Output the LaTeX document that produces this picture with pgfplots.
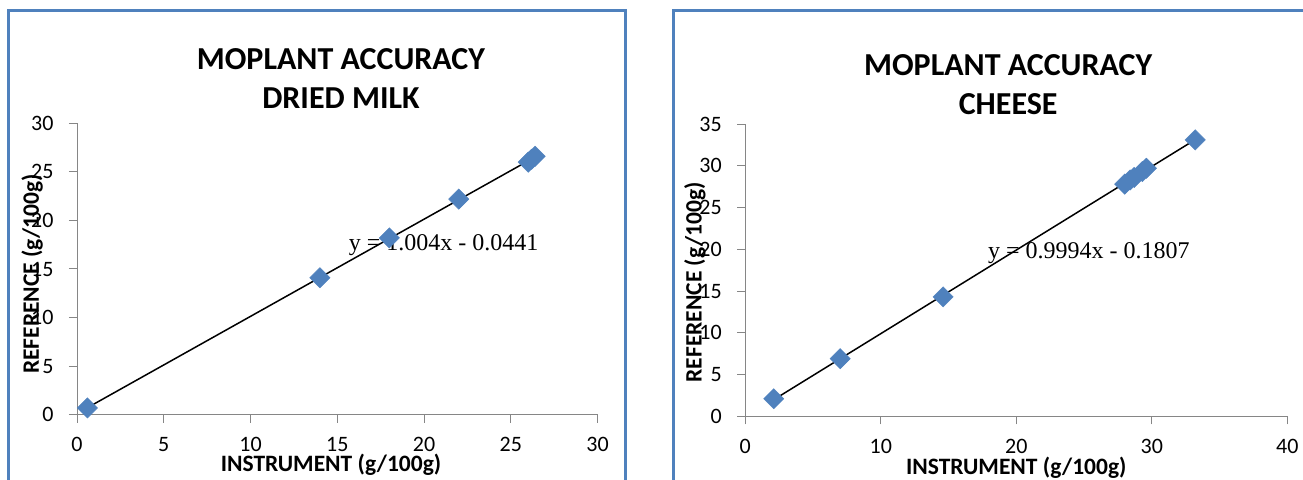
\documentclass[border=0pt]{standalone}
\usepackage{fontspec}
\setmainfont{Carlito}
\newfontfamily\timesfont{Liberation Serif}
\usepackage{pgfplots}
\usepackage{pgfplotstable}
\pgfplotsset{compat=1.18}
\definecolor{mkblue}{HTML}{4F81BD}
\definecolor{axgray}{HTML}{868686}
\definecolor{frameblue}{HTML}{4F81BD}

\pgfplotstableread{
x y
0.6 0.7
14.0 14.1
18.0 18.2
22.0 22.2
26.0 26.0
26.2 26.3
26.4 26.6
}\milk

\pgfplotstableread{
x y
2.1 2.1
7.0 6.9
14.6 14.3
28.0 27.8
28.4 28.3
28.7 28.6
29.3 29.3
29.6 29.7
33.2 33.1
}\cheese

\pgfplotsset{mystyle/.style={
  scale only axis,
  anchor=south west,
  axis x line=bottom, axis y line=left,
  axis line style={axgray, line width=1pt, -},
  tick style={axgray, line width=1pt},
  tick align=outside,
  major tick length=8pt,
  xmin=0, ymin=0,
  tick label style={font=\fontsize{22}{22}\selectfont, text=black},
  xticklabel style={yshift=-11pt},
  yticklabel style={xshift=-12pt},
  /pgf/number format/assume math mode=true,
  xlabel style={font=\fontsize{23.5}{23.5}\selectfont\bfseries, anchor=center},
  ylabel style={font=\fontsize{23.5}{23.5}\selectfont\bfseries, anchor=center},
  title style={font=\fontsize{32}{39}\selectfont\bfseries, align=center, anchor=center},
  clip=false,
}}

\begin{document}
\begin{tikzpicture}[x=1pt,y=1pt]
\useasboundingbox (0,0) rectangle (1303,479);
\draw[frameblue, line width=3pt] (8.5,-10) -- (8.5,468) -- (625.5,468) -- (625.5,-10);
\draw[frameblue, line width=3pt] (673.5,-10) -- (673.5,468) -- (1320,468);

\begin{axis}[mystyle,
  at={(77pt,64.3pt)}, width=520.6pt, height=291.4pt,
  xmax=30, ymax=30, xtick={0,5,...,30}, ytick={0,5,...,30},
  xlabel={INSTRUMENT (g/100g)},
  xlabel style={at={(axis description cs:0.488,0)}, yshift=-50pt},
  ylabel={REFERENCE (g/100g)},
  ylabel style={at={(axis description cs:-0.0864,0.483)}},
  title={MOPLANT ACCURACY\\DRIED MILK},
  title style={at={(axis description cs:0.507,1.134)}},
]
\addplot[only marks, mark=square*, mark size=7.2pt, mark options={rotate=45, fill=mkblue, draw=mkblue}] table[x=x,y=y] {\milk};
\addplot[black, line width=1.5pt, no marks] table[x=x, y={create col/linear regression={y=y}}] {\milk};
\node[font=\timesfont\fontsize{24}{24}\selectfont, anchor=west, inner sep=0pt] at (axis cs:15.65,17.5) {y = 1.004x - 0.0441};
\end{axis}

\begin{axis}[mystyle,
  at={(745.3pt,62.7pt)}, width=542pt, height=292.3pt,
  xmax=40, ymax=35, xtick={0,10,...,40}, ytick={0,5,...,35},
  xlabel={INSTRUMENT (g/100g)},
  xlabel style={at={(axis description cs:0.5,0)}, yshift=-51pt},
  ylabel={REFERENCE (g/100g)},
  ylabel style={at={(axis description cs:-0.0928,0.458)}},
  title={MOPLANT ACCURACY\\CHEESE},
  title style={at={(axis description cs:0.485,1.115)}},
]
\addplot[only marks, mark=square*, mark size=7.2pt, mark options={rotate=45, fill=mkblue, draw=mkblue}] table[x=x,y=y] {\cheese};
\addplot[black, line width=1.5pt, no marks] table[x=x, y={create col/linear regression={y=y}}] {\cheese};
\node[font=\timesfont\fontsize{24}{24}\selectfont, anchor=west, inner sep=0pt] at (axis cs:17.9,19.5) {y = 0.9994x - 0.1807};
\end{axis}
\end{tikzpicture}
\end{document}
